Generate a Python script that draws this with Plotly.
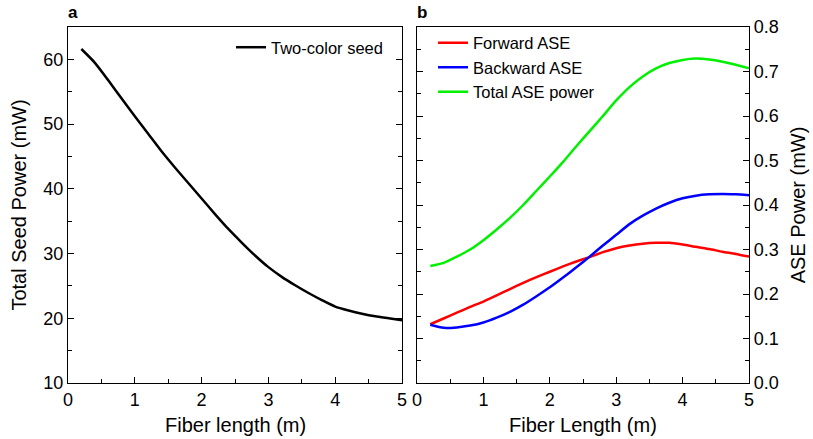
import plotly.graph_objects as go

# fiber position (m)
length = [0.2, 0.4, 0.6, 0.8, 1.0, 1.2, 1.4, 1.6, 1.8, 2.0, 2.2, 2.4, 2.6,
          2.8, 3.0, 3.2, 3.4, 3.6, 3.8, 4.0, 4.2, 4.4, 4.6, 4.8, 5.0]

# panel a: total seed power (mW)
seed_power = [61.6, 59.5, 56.8, 54.0, 51.2, 48.5, 45.8, 43.3, 40.9, 38.5,
              36.1, 33.8, 31.7, 29.7, 27.9, 26.4, 25.1, 23.9, 22.8, 21.8,
              21.2, 20.7, 20.3, 20.0, 19.7]

# panel b: ASE power (mW)
forward_ase = [0.132, 0.145, 0.158, 0.171, 0.183, 0.197, 0.211, 0.225, 0.238,
               0.250, 0.262, 0.273, 0.283, 0.294, 0.303, 0.309, 0.313, 0.315,
               0.315, 0.311, 0.306, 0.301, 0.295, 0.290, 0.284]
backward_ase = [0.131, 0.124, 0.125, 0.129, 0.136, 0.147, 0.160, 0.176, 0.195,
                0.215, 0.237, 0.260, 0.284, 0.309, 0.333, 0.357, 0.376, 0.392,
                0.405, 0.415, 0.421, 0.424, 0.425, 0.424, 0.422]
total_ase = [0.263, 0.270, 0.284, 0.300, 0.321, 0.345, 0.371, 0.400, 0.432,
             0.464, 0.497, 0.532, 0.566, 0.600, 0.635, 0.665, 0.689, 0.707,
             0.719, 0.726, 0.729, 0.727, 0.722, 0.715, 0.707]

FONT = "Liberation Sans, Arial, sans-serif"

fig = go.Figure()
fig.add_trace(go.Scatter(x=length, y=seed_power, mode="lines", name="Two-color seed",
                         line=dict(color="black", width=2.5, shape="spline", smoothing=0.6),
                         xaxis="x", yaxis="y", legend="legend"))
fig.add_trace(go.Scatter(x=length, y=forward_ase, mode="lines", name="Forward ASE",
                         line=dict(color="#ff0000", width=2.5, shape="spline", smoothing=0.6),
                         xaxis="x2", yaxis="y2", legend="legend2"))
fig.add_trace(go.Scatter(x=length, y=backward_ase, mode="lines", name="Backward ASE",
                         line=dict(color="#0000ff", width=2.5, shape="spline", smoothing=0.6),
                         xaxis="x2", yaxis="y2", legend="legend2"))
fig.add_trace(go.Scatter(x=length, y=total_ase, mode="lines", name="Total ASE power",
                         line=dict(color="#00f000", width=2.5, shape="spline", smoothing=0.6),
                         xaxis="x2", yaxis="y2", legend="legend2"))

axis_common = dict(showgrid=False, zeroline=False, showline=True, linecolor="black",
                   linewidth=1.3, ticks="inside", ticklen=6, tickwidth=1.2,
                   tickcolor="black", automargin=False,
                   tickfont=dict(size=18, color="black"))

x_common = dict(axis_common, range=[0, 5], dtick=1, mirror=True,
                minor=dict(dtick=0.5, ticks="inside", ticklen=3.5, tickcolor="black"))

fig.update_layout(
    width=813, height=439,
    margin=dict(l=68, r=64, t=27, b=56),
    paper_bgcolor="white", plot_bgcolor="white",
    font=dict(family=FONT, color="black"),
    xaxis=dict(x_common, domain=[0, 0.4905], anchor="y"),
    yaxis=dict(axis_common, range=[10, 65], dtick=10, mirror="ticks", anchor="x",
               minor=dict(dtick=5, ticks="inside", ticklen=3.5, tickcolor="black"),
               title=dict(text="Total Seed Power (mW)", font=dict(size=20), standoff=11)),
    xaxis2=dict(x_common, domain=[0.5125, 1], anchor="y2"),
    yaxis2=dict(axis_common, range=[0, 0.8], dtick=0.1, tickformat=".1f", side="right",
                mirror="ticks", anchor="x2",
                minor=dict(dtick=0.05, ticks="inside", ticklen=3.5, tickcolor="black"),
                title=dict(text="ASE Power (mW)", font=dict(size=20), standoff=13)),
    legend=dict(x=0.2394, y=0.9916, xanchor="left", yanchor="top", bgcolor="rgba(0,0,0,0)",
                font=dict(size=16.5), tracegroupgap=0),
    legend2=dict(x=0.536, y=1.004, xanchor="left", yanchor="top", bgcolor="rgba(0,0,0,0)",
                 font=dict(size=16.5), tracegroupgap=0),
    showlegend=True,
    annotations=[
        dict(text="<b>a</b>", x=0, y=1, xref="paper", yref="paper", xanchor="left",
             yanchor="bottom", showarrow=False, font=dict(size=17), xshift=-2, yshift=3),
        dict(text="<b>b</b>", x=0.5125, y=1, xref="paper", yref="paper", xanchor="left",
             yanchor="bottom", showarrow=False, font=dict(size=17), xshift=-2, yshift=3),
        dict(text="Fiber length (m)", x=0.4905 / 2, y=0, xref="paper", yref="paper",
             xanchor="center", yanchor="middle", showarrow=False, font=dict(size=20),
             yshift=-42),
        dict(text="Fiber Length (m)", x=(0.5125 + 1) / 2, y=0, xref="paper", yref="paper",
             xanchor="center", yanchor="middle", showarrow=False, font=dict(size=20),
             yshift=-42),
    ],
)

# drop the default 8px body margin so the figure fills the window exactly
fig.write_html("out.html", config={"displayModeBar": False},
               post_script="document.body.style.margin = '0px';")
